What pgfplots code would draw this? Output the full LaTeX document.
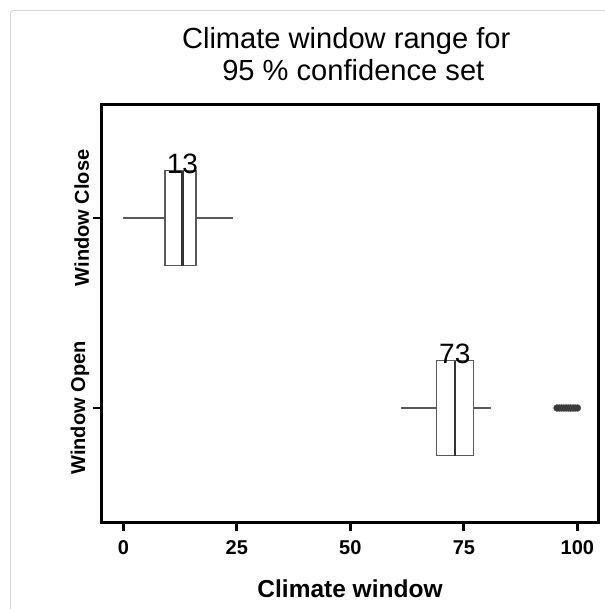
\documentclass[border=0pt]{standalone}
\usepackage{pgfplots}
\pgfplotsset{compat=1.18}
\usepgfplotslibrary{statistics}
\usepackage{fontspec}
\setmainfont{Liberation Sans}

\definecolor{boxline}{HTML}{595959}
\definecolor{medline}{HTML}{333333}
\definecolor{outpt}{HTML}{3C3C3C}
\definecolor{framegrey}{HTML}{D6D6D6}

\begin{document}
\begin{tikzpicture}
% page frame in bp, origin at the top-left corner
\useasboundingbox (0,0) rectangle (605bp,-609bp);
\draw[framegrey, line width=0.9bp, rounded corners=3bp] (10.5bp,-640bp) |- (640bp,-10.5bp);

% title
\node[anchor=base, font=\fontsize{29.1bp}{30bp}\selectfont] at (346.2bp,-48.3bp) {Climate window range for};
\node[anchor=base, font=\fontsize{29.1bp}{30bp}\selectfont] at (353.3bp,-80.7bp) {95 \% confidence set};

\begin{axis}[
  at={(101.7bp,-104bp)}, anchor=north west,
  scale only axis,
  width=496.6bp, height=418bp,
  xmin=-4.76, xmax=104.6,
  ymin=0.4, ymax=2.6,
  xtick={0,25,50,75,100},
  xticklabels={0,25,50,75,100},
  ytick={1,2},
  yticklabels={Window Open,Window Close},
  xtick pos=bottom, ytick pos=left,
  tick align=outside,
  major tick length=9bp,
  major tick style={line width=2.8bp, draw=black},
  axis line style={line width=3bp, black},
  xticklabel style={font=\fontsize{20bp}{20bp}\selectfont\bfseries, anchor=base, yshift=-23bp},
  yticklabel style={font=\fontsize{20bp}{20bp}\selectfont\bfseries, rotate=90, anchor=south},
  xlabel={Climate window},
  every axis x label/.style={at={(axis description cs:0.5,0)}, anchor=base, yshift=-75bp,
    font=\fontsize{24.5bp}{25bp}\selectfont\bfseries},
  clip=false,
]

% Window Close
\addplot[draw=boxline, line width=1.3bp, fill=white, mark=none,
  boxplot/draw direction=x,
  boxplot prepared={lower whisker=0, lower quartile=9.2, median=13,
    upper quartile=16, upper whisker=24.2, draw position=2,
    box extend=0.5, whisker extend=0},
  boxplot/every median/.style={draw=medline, line width=2.6bp}]
  coordinates {};

% Window Open
\addplot[draw=boxline, line width=1.3bp, fill=white, mark=none,
  boxplot/draw direction=x,
  boxplot prepared={lower whisker=61.1, lower quartile=69, median=73,
    upper quartile=77.1, upper whisker=80.9, draw position=1,
    box extend=0.5, whisker extend=0},
  boxplot/every median/.style={draw=medline, line width=2.6bp}]
  coordinates {};

% outlying windows of the open set
\addplot[only marks, mark=*, mark size=3.4bp, draw=outpt, fill=outpt]
  coordinates {(95.5,1) (96,1) (96.5,1) (97,1) (97.5,1) (98,1) (98.5,1)
    (99,1) (99.5,1) (100,1)};

% heavy outside tick marks
\pgfplotsinvokeforeach{0,25,50,75,100}{
  \draw[line width=2.8bp, black] (axis cs:#1,0.4) -- ([yshift=-9bp]axis cs:#1,0.4);
}
\pgfplotsinvokeforeach{1,2}{
  \draw[line width=2.8bp, black] (axis cs:-4.76,#1) -- ([xshift=-9bp]axis cs:-4.76,#1);
}

% median values
\node[anchor=base, yshift=-3bp, font=\fontsize{28bp}{28bp}\selectfont] at (axis cs:13,2.25) {13};
\node[anchor=base, yshift=-3bp, font=\fontsize{28bp}{28bp}\selectfont] at (axis cs:73,1.25) {73};
\end{axis}
\end{tikzpicture}
\end{document}
